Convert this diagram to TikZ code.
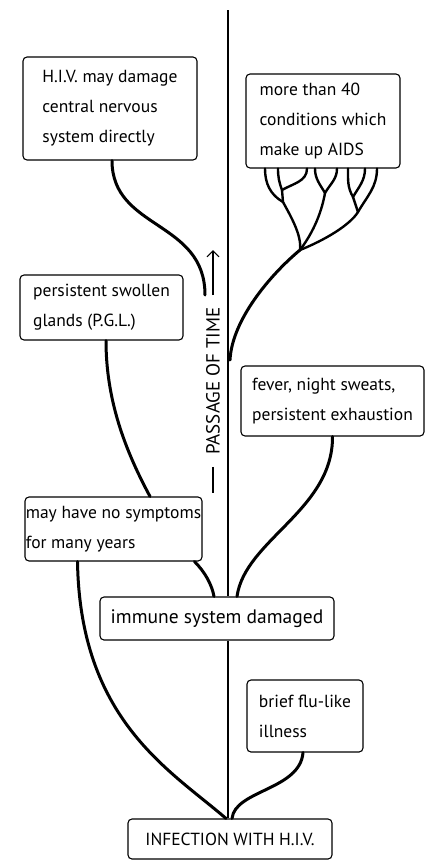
\documentclass[tikz,border=0pt]{standalone}
\usepackage{fontspec}
\setmainfont{PT Sans}
\usetikzlibrary{arrows.meta}

\begin{document}
\begin{tikzpicture}[x=1pt,y=1pt,
    stage/.style={draw, rounded corners=4pt, align=left, inner sep=0pt, line width=1.1pt,
      fill=white, font=\fontsize{17.5}{30}\selectfont},
    branch/.style={line width=3pt, line cap=round},
    twig/.style={line width=2.4pt, line cap=round},
    timeline/.style={line width=1.6pt}]
  \useasboundingbox (0,0) rectangle (432,-860);

  % the stages
  \node[stage, minimum width=174pt, minimum height=103pt] (hivcns) at (110,-108.5) {H.I.V. may damage\\central nervous\\system directly};
  \node[stage, minimum width=154pt, minimum height=94pt] (aids) at (323,-121) {more than 40\\conditions which\\make up AIDS};
  \node[stage, minimum width=163pt, minimum height=65pt] (pgl) at (101.5,-307.5) {persistent swollen\\glands (P.G.L.)};
  \node[stage, minimum width=183pt, minimum height=70pt] (fever) at (332.5,-401) {fever, night sweats,\\persistent exhaustion};
  \node[stage, minimum width=177pt, minimum height=64pt] (nosymp) at (113.5,-529) {may have no symptoms\\for many years};
  \node[stage, minimum width=234pt, minimum height=43pt, font=\fontsize{19.5}{30}\selectfont] (immune) at (217,-618.5) {immune system damaged};
  \node[stage, minimum width=116pt, minimum height=72pt] (flu) at (305,-716) {brief flu-like\\illness};
  \node[stage, minimum width=204pt, minimum height=40pt, font=\fontsize{17.5}{20}\selectfont] (infection) at (230,-839) {INFECTION WITH H.I.V.};

  % passage of time
  \coordinate (timetop) at (228,-10);
  \draw[timeline] (timetop) -- ([xshift=11pt]immune.north);
  \draw[timeline] ([xshift=11pt]immune.south) -- ([xshift=-2pt]infection.north);
  \node[rotate=90, inner xsep=12pt, font=\fontsize{19}{19}\selectfont] (ptime) at (213,-381) {PASSAGE OF TIME};
  \coordinate (tdash) at (213,-493);
  \coordinate (ttip) at (213,-250);
  \draw[line width=1.1pt] (ptime.west) -- (tdash);
  \draw[line width=1.1pt, -{Straight Barb[length=6pt]}] (ptime.east) -- (ttip);

  % branches
  \draw[branch] ([xshift=-4pt]infection.north) .. controls (170,-770) and (80,-720) .. ([xshift=-36pt]nosymp.south);
  \draw[branch] ([xshift=2pt]infection.north) .. controls (235,-790) and (300,-790) .. ([xshift=-2pt]flu.south);
  \draw[branch] ([xshift=81pt]nosymp.south) .. controls (205,-572) and (212,-585) .. ([xshift=-3pt]immune.north);
  \draw[branch] ([xshift=20pt]immune.north) .. controls (245,-540) and (333,-510) .. (fever.south);
  \draw[branch] ([xshift=36.5pt]nosymp.north) .. controls (125,-450) and (106,-400) .. ([xshift=4.5pt]pgl.south);
  \coordinate (hivfoot) at (205,-295);
  \draw[branch] (hivfoot) .. controls (205,-220) and (112,-230) .. ([xshift=2pt]hivcns.south);

  % the AIDS tree
  \coordinate (aidsfoot) at (230,-360);
  \coordinate (fork) at (300,-250);
  \coordinate (forkl) at (283,-202);
  \coordinate (forkll) at (282,-190);
  \coordinate (forkm) at (325,-193);
  \coordinate (forkr) at (358,-212);
  \coordinate (forkrr) at (353,-197);
  \draw[branch] (aidsfoot) .. controls (232,-320) and (270,-275) .. (fork);
  \draw[twig] (fork) .. controls (302,-235) and (290,-215) .. (forkl);
  \draw[twig] (forkl) to[out=150,in=-90] ([xshift=-58pt]aids.south);
  \draw[twig] (forkl) -- (forkll);
  \draw[twig] (forkll) to[out=110,in=-90] ([xshift=-45pt]aids.south);
  \draw[twig] (forkll) to[out=30,in=-90] ([xshift=-16pt]aids.south);
  \draw[twig] (fork) .. controls (315,-230) and (322,-210) .. (forkm);
  \draw[twig] (forkm) to[out=120,in=-90] ([xshift=-8pt]aids.south);
  \draw[twig] (forkm) to[out=60,in=-90] ([xshift=14pt]aids.south);
  \draw[twig] (fork) .. controls (325,-240) and (350,-225) .. (forkr);
  \draw[twig] (forkr) -- (forkrr);
  \draw[twig] (forkrr) to[out=120,in=-90] ([xshift=25pt]aids.south);
  \draw[twig] (forkrr) to[out=60,in=-90] ([xshift=42pt]aids.south);
  \draw[twig] (forkr) to[out=60,in=-90] ([xshift=54pt]aids.south);
\end{tikzpicture}
\end{document}
